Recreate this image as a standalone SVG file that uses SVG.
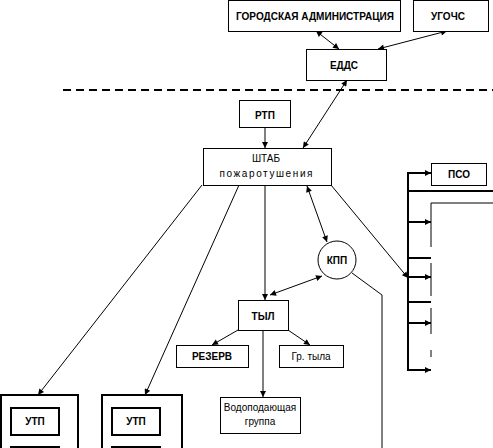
<svg xmlns="http://www.w3.org/2000/svg" width="493" height="448" viewBox="0 0 493 448">
<defs>
<marker id="a" viewBox="0 0 10 10" refX="10" refY="5" markerWidth="9" markerHeight="6" markerUnits="userSpaceOnUse" orient="auto-start-reverse"><path d="M0,0 L10,5 L0,10 z" fill="#000"/></marker>
<style>
.b{fill:#fff;stroke:#000;stroke-width:1}
.bt{fill:#fff;stroke:#000;stroke-width:2}
.l{fill:none;stroke:#000;stroke-width:1}
.lt{fill:none;stroke:#000;stroke-width:2}
.t{font-family:"Liberation Sans",Arial,sans-serif;font-size:10px;text-anchor:middle;fill:#000}
.bd{font-weight:bold}
</style>
</defs>
<rect width="493" height="448" fill="#fff"/>
<line x1="63" y1="90" x2="493" y2="90" stroke="#000" stroke-width="2" stroke-dasharray="8,5"/>
<g id="connectors">
<line class="l" x1="316" y1="31" x2="339" y2="49" marker-start="url(#a)" marker-end="url(#a)"/>
<line class="l" x1="447" y1="31" x2="378" y2="49" marker-start="url(#a)" marker-end="url(#a)"/>
<line class="l" x1="347" y1="80" x2="303" y2="148" marker-start="url(#a)" marker-end="url(#a)"/>
<line class="l" x1="265" y1="127" x2="265" y2="148" marker-end="url(#a)"/>
<line class="l" x1="202" y1="185" x2="38" y2="395" marker-end="url(#a)"/>
<line class="l" x1="239" y1="185" x2="145" y2="395" marker-end="url(#a)"/>
<line class="l" x1="265" y1="185" x2="265" y2="300" marker-end="url(#a)"/>
<line class="l" x1="307" y1="186" x2="327" y2="242" marker-start="url(#a)" marker-end="url(#a)"/>
<line class="l" x1="331" y1="185" x2="408" y2="278" marker-end="url(#a)"/>
<line class="l" x1="270" y1="295" x2="322" y2="276" marker-start="url(#a)" marker-end="url(#a)"/>
<polyline class="l" points="352,273 382,295 382,448"/>
<line class="l" x1="238" y1="330" x2="212" y2="345" marker-end="url(#a)"/>
<line class="l" x1="288" y1="330" x2="310" y2="345" marker-end="url(#a)"/>
<line class="l" x1="263" y1="330" x2="263" y2="397" marker-end="url(#a)"/>
<line class="lt" x1="408" y1="172" x2="408" y2="371"/>
<line class="lt" x1="407" y1="173" x2="431" y2="173" marker-end="url(#a)"/>
<line class="lt" x1="407" y1="191" x2="493" y2="191"/>
<line class="lt" x1="407" y1="222" x2="431" y2="222" marker-end="url(#a)"/>
<line class="lt" x1="407" y1="258" x2="431" y2="258"/>
<line class="lt" x1="407" y1="277" x2="431" y2="277" marker-end="url(#a)"/>
<line class="lt" x1="407" y1="302" x2="431" y2="302"/>
<line class="lt" x1="407" y1="323" x2="431" y2="323" marker-end="url(#a)"/>
<line class="lt" x1="407" y1="370" x2="431" y2="370" marker-end="url(#a)"/>
<polyline class="l" points="493,203 431,203 431,247"/>
<line class="l" x1="431" y1="263" x2="431" y2="296"/>
<line class="l" x1="431" y1="308" x2="431" y2="334"/>
<line class="l" x1="431" y1="350" x2="431" y2="357"/>
</g>
<g id="admin"><rect class="b" x="228.5" y="0.5" width="172" height="31"/><text class="t bd" x="315" y="20" font-size="9" textLength="158" lengthAdjust="spacingAndGlyphs">ГОРОДСКАЯ АДМИНИСТРАЦИЯ</text></g>
<g id="ugochs"><rect class="b" x="413.5" y="0.5" width="75" height="31"/><text class="t bd" x="448" y="20" font-size="12">УГОЧС</text></g>
<g id="edds"><rect class="b" x="306.5" y="49.5" width="80" height="31"/><text class="t bd" x="344" y="69" font-size="12">ЕДДС</text></g>
<g id="rtp"><rect class="b" x="239.5" y="100.5" width="51" height="27"/><text class="t bd" x="265" y="119" font-size="11">РТП</text></g>
<g id="shtab"><rect class="b" x="203.5" y="148.5" width="128" height="37"/><text class="t" x="266" y="162" font-size="11">ШТАБ</text><text class="t" x="266" y="177" font-size="10" textLength="93" lengthAdjust="spacing">пожаротушения</text></g>
<g id="kpp"><circle class="b" cx="337" cy="260" r="19"/><text class="t bd" x="337" y="264" font-size="10">КПП</text></g>
<g id="tyl"><rect class="b" x="238.5" y="300.5" width="50" height="30"/><text class="t bd" x="263" y="320" font-size="11">ТЫЛ</text></g>
<g id="rezerv"><rect class="b" x="176.5" y="345.5" width="72" height="22"/><text class="t bd" x="212" y="360" font-size="9">РЕЗЕРВ</text></g>
<g id="grtyla"><rect class="b" x="279.5" y="345.5" width="64" height="22"/><text class="t" x="311" y="360" font-size="10">Гр. тыла</text></g>
<g id="vodo"><rect class="b" x="220.5" y="397.5" width="80" height="36"/><text class="t" x="260" y="411" font-size="10">Водоподающая</text><text class="t" x="260" y="425" font-size="10">группа</text></g>
<g id="utp1"><rect class="bt" x="1" y="395" width="77" height="60"/><rect class="bt" x="11" y="408" width="48" height="27"/><text class="t bd" x="35" y="425" font-size="10">УТП</text><rect class="bt" x="11" y="447" width="48" height="20"/></g>
<g id="utp2"><rect class="bt" x="102" y="395" width="80" height="60"/><rect class="bt" x="112" y="408" width="48" height="27"/><text class="t bd" x="136" y="425" font-size="10">УТП</text><rect class="bt" x="112" y="447" width="48" height="20"/></g>
<g id="pso"><rect class="b" x="431.5" y="163.5" width="55" height="22"/><text class="t bd" x="459" y="178" font-size="9">ПСО</text></g>
</svg>
